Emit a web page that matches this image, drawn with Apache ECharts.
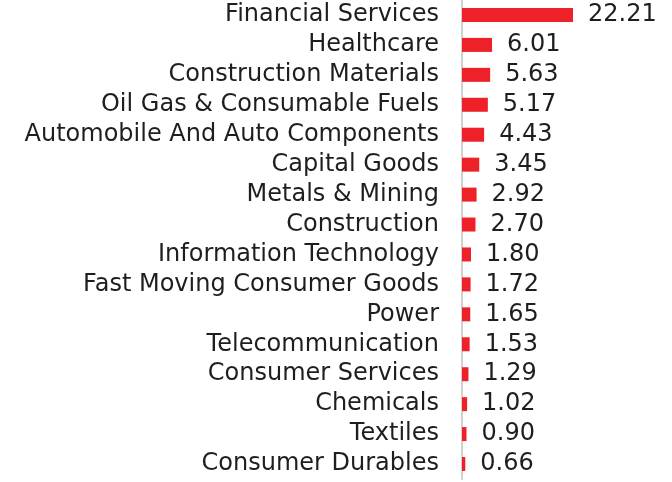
<!DOCTYPE html>
<html>
<head>
<meta charset="utf-8">
<script src="https://cdn.jsdelivr.net/npm/echarts@6/dist/echarts.min.js"></script>
<style>
    html, body { margin: 0; padding: 0; background: #fff; }
    #chart { width: 672px; height: 482px; }
</style>
</head>
<body>
<div id="chart"></div>
<script>
(function () {

    'use strict';

    var sectors = [
        'Financial Services', 'Healthcare', 'Construction Materials',
        'Oil Gas & Consumable Fuels', 'Automobile And Auto Components',
        'Capital Goods', 'Metals & Mining', 'Construction',
        'Information Technology', 'Fast Moving Consumer Goods', 'Power',
        'Telecommunication', 'Consumer Services', 'Chemicals', 'Textiles',
        'Consumer Durables'
    ];

    var weights = [22.21, 6.01, 5.63, 5.17, 4.43, 3.45, 2.92, 2.70,
        1.80, 1.72, 1.65, 1.53, 1.29, 1.02, 0.90, 0.66];

    var chart = echarts.init(document.getElementById('chart'));

    var option = {
        animation: false,
        grid: {
            left: 462,
            top: 0,
            width: 111,
            height: 479
        },
        xAxis: {
            type: 'value',
            min: 0,
            max: 22.21,
            show: false
        },
        yAxis: {
            type: 'category',
            inverse: true,
            data: sectors,
            axisTick: { show: false },
            axisLine: {
                show: true,
                lineStyle: { color: '#d0d0d0', width: 2 }
            },
            axisLabel: {
                interval: 0,
                margin: 23,
                padding: [5, 0, 0, 0],
                color: '#1e1e1e',
                fontSize: 24,
                fontFamily: 'DejaVu Sans'
            }
        },
        series: [{
            type: 'bar',
            data: weights,
            barWidth: 14,
            itemStyle: { color: '#ee2028' },
            label: {
                show: true,
                position: 'right',
                distance: 15,
                padding: [5, 0, 0, 0],
                color: '#1e1e1e',
                fontSize: 24,
                fontFamily: 'DejaVu Sans',
                formatter: function (p) {
                    return p.value.toFixed(2);
                }
            }
        }]
    };

    chart.setOption(option);
})();
</script>
</body>
</html>
